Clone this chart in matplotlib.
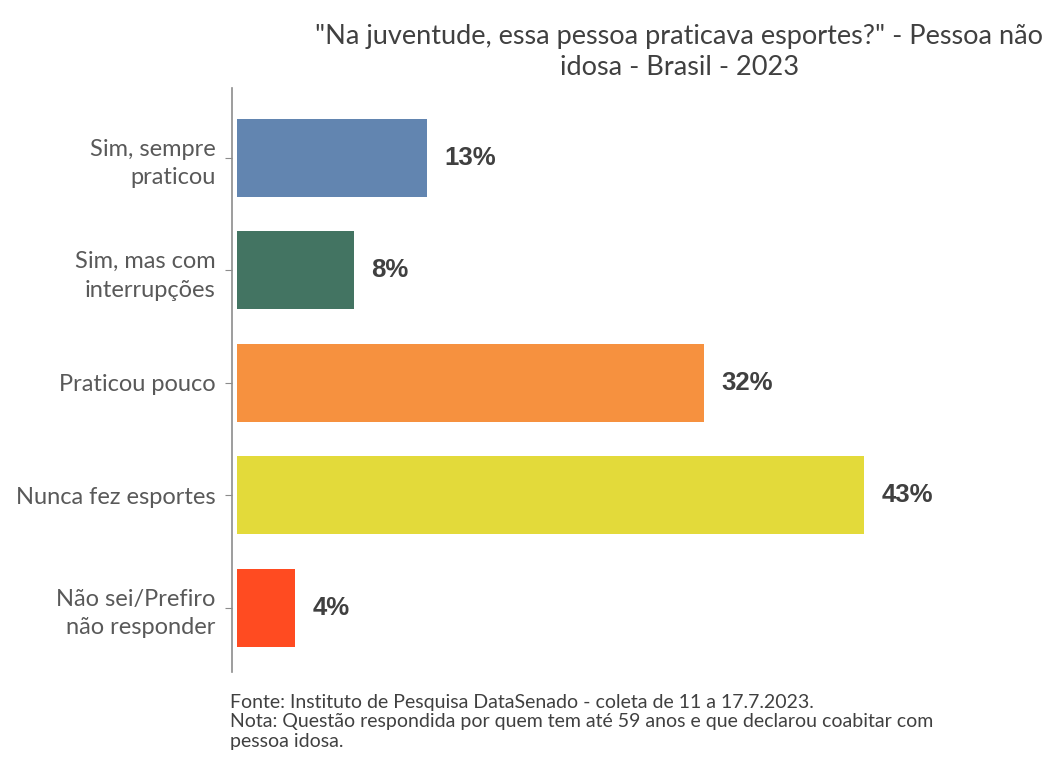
import matplotlib.pyplot as plt

categorias = ['Sim, sempre\npraticou', 'Sim, mas com\ninterrupções', 'Praticou pouco',
              'Nunca fez esportes', 'Não sei/Prefiro\nnão responder']
valores = [13, 8, 32, 43, 4]
rotulos = ['13%', '8%', '32%', '43%', '4%']
cores = ['#6285B0', '#437462', '#F6913F', '#E3DA3A', '#FF4B21']

titulo = '"Na juventude, essa pessoa praticava esportes?" - Pessoa não\nidosa - Brasil - 2023'
nota = ('Fonte: Instituto de Pesquisa DataSenado - coleta de 11 a 17.7.2023.\n'
        'Nota: Questão respondida por quem tem até 59 anos e que declarou coabitar com\n'
        'pessoa idosa.')

plt.rcParams['font.family'] = ['Lato', 'DejaVu Sans']

fig = plt.figure(figsize=(10.5, 7.58), dpi=100)
ax = fig.add_axes([0.221, 0.1135, 0.731, 0.7705])

y = list(range(len(categorias)))
ax.barh(y, valores, height=0.69, color=cores, left=0)

for i, v in enumerate(valores):
    ax.text(v + 1.2, i, rotulos[i], va='center', ha='left', fontsize=18.5,
            fontweight='bold', color='#404040', family='Liberation Sans')

ax.set_yticks(y)
ax.set_yticklabels(categorias, fontsize=17, color='#595959', linespacing=1.45)
ax.set_ylim(len(categorias) - 0.43, -0.62)
ax.set_xlim(-0.34, 52.3)
ax.set_xticks([])

for s in ['top', 'right', 'bottom']:
    ax.spines[s].set_visible(False)
ax.spines['left'].set_color('#8c8c8c')
ax.spines['left'].set_linewidth(1.2)
ax.tick_params(axis='y', length=5, color='#8c8c8c', pad=7)

fig.text(0.647, 0.931, titulo, ha='center', va='center', fontsize=19.5,
         color='#404040', linespacing=1.3)
fig.text(0.219, 0.0475, nota, ha='left', va='center', fontsize=14,
         color='#404040', linespacing=1.17)

plt.savefig('out.png', dpi=100)
